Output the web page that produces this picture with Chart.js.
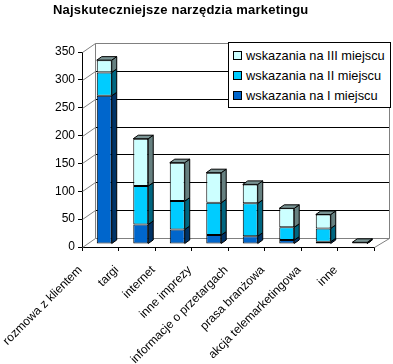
<!DOCTYPE html>
<html>
<head>
<meta charset="utf-8">
<script src="https://cdn.jsdelivr.net/npm/chart.js@4.4.0/dist/chart.umd.min.js"></script>
<style>
  body { margin: 0; background: #fff; }
  #wrap { position: relative; width: 393px; height: 364px; font-family: "Liberation Sans", Arial, sans-serif; }
  #title { position: absolute; left: 53px; top: 2px; font-weight: bold; font-size: 13px; letter-spacing: 0.2px; color: #000; }
  #legend { position: absolute; left: 228px; top: 42px; width: 161px; height: 64px; border: 1px solid #000; background: #fff; font-size: 12.8px; }
  .item { position: absolute; left: 4px; height: 14px; line-height: 14px; white-space: nowrap; }
  .box { display: inline-block; width: 7px; height: 7px; border: 1px solid #000; margin-right: 4px; }
</style>
</head>
<body>
<div id="wrap">
  <canvas id="myChart" width="393" height="364"></canvas>
  <div id="title">Najskuteczniejsze narzędzia marketingu</div>
  <div id="legend"></div>
</div>
<script>
var categories = ['rozmowa z klientem', 'targi', 'internet', 'inne imprezy',
                  'informacje o przetargach', 'prasa branżowa', 'akcja telemarketingowa', 'inne'];
var firstPlace  = [266, 35, 26, 16, 14, 7, 4, 1];
var secondPlace = [42, 69, 51, 58, 59, 23, 24, 1];
var thirdPlace  = [22, 85, 69, 54, 34, 34, 25, 1];
var yTicks = [0, 50, 100, 150, 200, 250, 300, 350];

var seriesNames = ['wskazania na I miejscu', 'wskazania na II miejscu', 'wskazania na III miejscu'];
var frontColors = ['#0066cc', '#00ccff', '#ccffff'];
var sideColors  = ['#003366', '#006680', '#668080'];
var topColor = '#7a9494';

// depth of the fake 3d
var wall = { dx: 13, dy: 9 };
var bar3d = { x: 4, y: -3, dx: 5, dy: 3.5 };

function line(ctx, x1, y1, x2, y2) {
  ctx.beginPath();
  ctx.moveTo(x1, y1);
  ctx.lineTo(x2, y2);
  ctx.stroke();
}

function poly(ctx, pts, fill) {
  ctx.beginPath();
  ctx.moveTo(pts[0][0], pts[0][1]);
  for (var i = 1; i < pts.length; i++) ctx.lineTo(pts[i][0], pts[i][1]);
  ctx.closePath();
  ctx.fillStyle = fill;
  ctx.fill();
  ctx.stroke();
}

var threeD = {
  id: 'threeD',
  beforeDatasetsDraw: function (chart) {
    var ctx = chart.ctx, a = chart.chartArea, ys = chart.scales.y;
    var L = Math.round(a.left) + 0.5, R = Math.round(a.right) + 0.5;
    ctx.save();
    ctx.lineWidth = 1;
    var top = Math.round(ys.getPixelForValue(350)) + 0.5 - wall.dy;
    var bottom = Math.round(ys.getPixelForValue(0)) + 0.5 - wall.dy;
    for (var i = 0; i < yTicks.length; i++) {
      var py = Math.round(ys.getPixelForValue(yTicks[i])) + 0.5;
      ctx.strokeStyle = '#808080';
      line(ctx, L, py, L + wall.dx, py - wall.dy);
      ctx.strokeStyle = (yTicks[i] === 0 || yTicks[i] === 350) ? '#808080' : '#000';
      line(ctx, L + wall.dx, py - wall.dy, R + wall.dx + 2, py - wall.dy);
    }
    ctx.strokeStyle = '#808080';
    line(ctx, L + wall.dx, top, L + wall.dx, bottom);
    line(ctx, R + wall.dx + 2, top, R + wall.dx + 2, bottom);
    line(ctx, R, bottom + wall.dy, R + wall.dx + 2, bottom);
    ctx.restore();

    ctx.save();
    ctx.translate(bar3d.x, bar3d.y);
  },
  afterDatasetsDraw: function (chart) {
    var ctx = chart.ctx;
    ctx.restore();
    ctx.save();
    ctx.translate(bar3d.x, bar3d.y);
    ctx.lineWidth = 1;
    ctx.strokeStyle = '#000';
    var n = chart.data.labels.length;
    for (var j = 0; j < n; j++) {
      var topEl = null;
      for (var d = 0; d < chart.data.datasets.length; d++) {
        var el = chart.getDatasetMeta(d).data[j];
        var p = el.getProps(['x', 'y', 'base', 'width'], true);
        var r = p.x + p.width / 2;
        poly(ctx, [[r, p.y], [r + bar3d.dx, p.y - bar3d.dy], [r + bar3d.dx, p.base - bar3d.dy], [r, p.base]], sideColors[d]);
        if (chart.data.datasets[d].data[j] > 0) topEl = p;
      }
      if (topEl) {
        var l = topEl.x - topEl.width / 2, rr = topEl.x + topEl.width / 2;
        poly(ctx, [[l, topEl.y], [l + bar3d.dx, topEl.y - bar3d.dy], [rr + bar3d.dx, topEl.y - bar3d.dy], [rr, topEl.y]], topColor);
      }
    }
    ctx.restore();
  }
};

function makeSet(i, values) {
  return {
    label: seriesNames[i],
    data: values,
    backgroundColor: frontColors[i],
    borderColor: '#000',
    borderWidth: 1,
    borderSkipped: false,
    barPercentage: 0.41,
    categoryPercentage: 1
  };
}

var ctx = document.getElementById('myChart').getContext('2d');
var myChart = new Chart(ctx, {
  type: 'bar',
  data: {
    labels: categories,
    datasets: [makeSet(0, firstPlace), makeSet(1, secondPlace), makeSet(2, thirdPlace)]
  },
  options: {
    responsive: false,
    animation: false,
    layout: { padding: { top: 52, right: 19, left: 0, bottom: 0 } },
    plugins: { legend: { display: false }, title: { display: false }, tooltip: { enabled: false } },
    scales: {
      x: {
        stacked: true,
        border: { color: '#000' },
        grid: { drawOnChartArea: false, color: '#000', tickLength: 4 },
        ticks: {
          color: '#000', font: { family: 'Liberation Sans', size: 12 },
          minRotation: 45, maxRotation: 45, labelOffset: -20, padding: 12
        },
        afterFit: function (scale) { scale.height = 117; }
      },
      y: {
        stacked: true,
        min: 0, max: 350,
        border: { color: '#000' },
        grid: { drawOnChartArea: false, color: '#000', tickLength: 4 },
        ticks: { stepSize: 50, color: '#000', font: { family: 'Liberation Sans', size: 12 }, padding: 3 },
        afterFit: function (scale) { scale.width = 82; }
      }
    }
  },
  plugins: [threeD]
});

// legend, top row is the last series
var legend = document.getElementById('legend');
for (var k = 2; k >= 0; k--) {
  var row = document.createElement('div');
  row.className = 'item';
  row.style.top = (6 + (2 - k) * 20) + 'px';
  row.innerHTML = '<span class="box" style="background:' + frontColors[k] + '"></span>' + seriesNames[k];
  legend.appendChild(row);
}
</script>
</body>
</html>
